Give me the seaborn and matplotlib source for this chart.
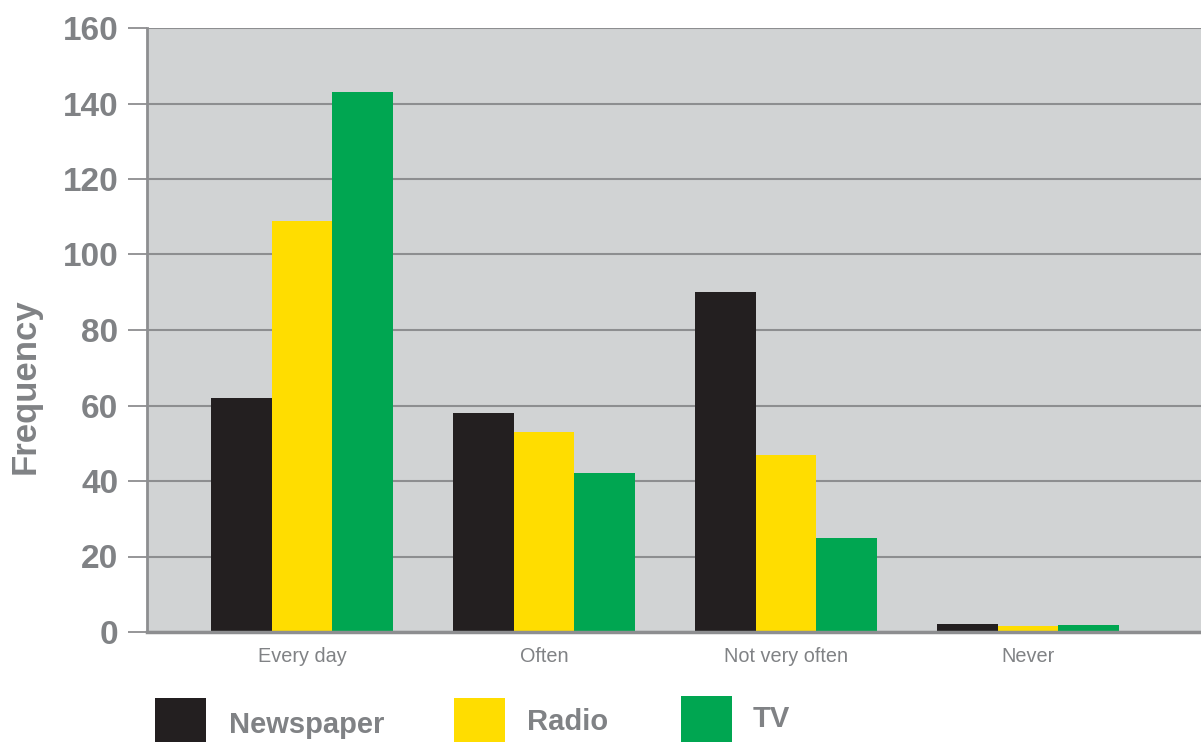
import matplotlib
matplotlib.use("Agg")
import matplotlib.pyplot as plt
from matplotlib.patches import Rectangle
import seaborn as sns
import pandas as pd

# Survey: how often each medium is used
categories = ["Every day", "Often", "Not very often", "Never"]
media = ["Newspaper", "Radio", "TV"]
newspaper = [62, 58, 90, 2.2]
radio = [109, 53, 47, 1.6]
tv = [143, 42, 25, 1.9]
colors = ["#231f20", "#ffdd00", "#00a651"]
yticks = [0, 20, 40, 60, 80, 100, 120, 140, 160]

df = pd.DataFrame({
    "category": categories * 3,
    "medium": [m for m in media for _ in categories],
    "frequency": newspaper + radio + tv,
})

sns.set_theme(style="white")
plt.rcParams["font.family"] = ["Liberation Sans", "DejaVu Sans"]

TEXT = "#808285"
LINE = "#8d8e90"
W, H = 1201, 742

fig = plt.figure(figsize=(W / 100, H / 100), dpi=100)
ax = fig.add_axes([147 / W, 110 / H, (W - 147) / W, 604 / H])
ax.set_facecolor("#d1d3d4")

sns.barplot(data=df, x="category", y="frequency", hue="medium",
            order=categories, hue_order=media, palette=colors,
            saturation=1, width=0.75, gap=0, legend=False,
            linewidth=0, edgecolor="none", ax=ax)

ax.set_xlim(-0.64, 3.715)
ax.set_ylim(0, 160)
ax.set_yticks(yticks)
ax.set_yticklabels([str(v) for v in yticks])
ax.set_axisbelow(True)
ax.yaxis.grid(True, color=LINE, lw=1.5)
ax.xaxis.grid(False)

for side in ("top", "right"):
    ax.spines[side].set_visible(False)
ax.spines["left"].set_color(LINE)
ax.spines["left"].set_linewidth(2.0)
ax.spines["bottom"].set_color(LINE)
ax.spines["bottom"].set_linewidth(2.5)

ax.tick_params(axis="y", length=13.7, width=1.3, color=LINE, pad=7,
               labelsize=24, labelcolor=TEXT, left=True)
for lbl in ax.get_yticklabels():
    lbl.set_fontweight("bold")
ax.tick_params(axis="x", length=0, pad=11, labelsize=14.3, labelcolor=TEXT)

ax.set_xlabel("")
ax.set_ylabel("Frequency", fontsize=25, fontweight="bold", color=TEXT)
ax.yaxis.set_label_coords(-(147 - 25) / (W - 147), (632 - 386) / 604)
ax.yaxis.label.set_va("center")

# Legend: coloured squares with bold labels along the bottom edge
legend_items = [
    (media[0], colors[0], 155, 698, 229, 733),
    (media[1], colors[1], 454, 698, 527, 730),
    (media[2], colors[2], 681, 696, 753, 727),
]
for name, col, sx, sy, tx, ty in legend_items:
    fig.add_artist(Rectangle((sx / W, 1 - 742 / H), 51 / W, (742 - sy) / H,
                             transform=fig.transFigure, facecolor=col,
                             edgecolor="none"))
    fig.text(tx / W, 1 - ty / H, name, fontsize=21, fontweight="bold",
             color=TEXT, ha="left", va="baseline")

fig.savefig("out.png", dpi=100)
